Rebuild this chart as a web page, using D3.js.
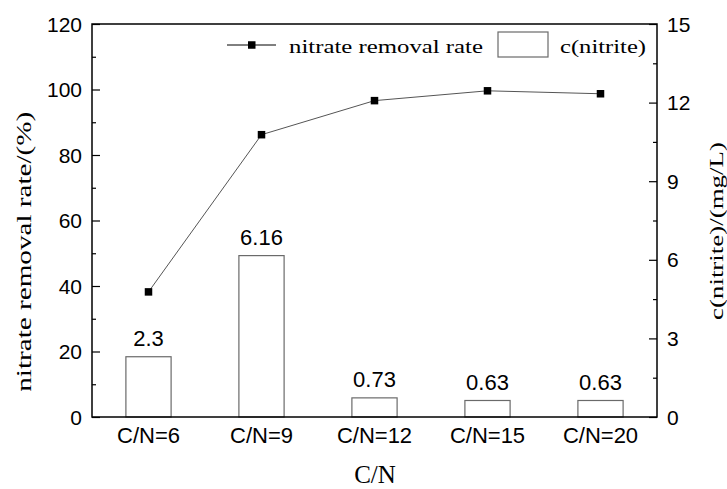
<!DOCTYPE html>
<html><head><meta charset="utf-8">
<script src="https://cdn.jsdelivr.net/npm/d3@7"></script>
<style>body{margin:0;background:#fff}svg{display:block}</style>
</head><body>
<svg id="c" width="727" height="489"></svg>
<script>
const categories = ["C/N=6","C/N=9","C/N=12","C/N=15","C/N=20"];
const removalRate = [38.2, 86.2, 96.6, 99.6, 98.7];
const nitrite = [2.3, 6.16, 0.73, 0.63, 0.63];
const nitriteLabels = ["2.3","6.16","0.73","0.63","0.63"];
const leftTicks = [0,20,40,60,80,100,120];
const rightTicks = [0,3,6,9,12,15];

const svg = d3.select("#c");
const m = {l:92, r:657, t:24, b:417};
const x = d3.scaleBand().domain(categories).range([m.l, m.r]).paddingInner(0.6).paddingOuter(0.3);
const yL = d3.scaleLinear().domain([0,120]).range([m.b, m.t]);
const yR = d3.scaleLinear().domain([0,15]).range([m.b, m.t]);
const arial = "Arial, 'Liberation Sans', sans-serif";
const times = "'Times New Roman', 'Liberation Serif', serif";

// bars
svg.append("g").selectAll("rect").data(nitrite).join("rect")
  .attr("x",(d,i)=>x(categories[i])).attr("width",x.bandwidth())
  .attr("y",d=>yR(d)).attr("height",d=>m.b-yR(d))
  .attr("fill","#fff").attr("stroke","#6a6a6a").attr("stroke-width",1.2);
svg.append("g").selectAll("text").data(nitrite).join("text")
  .attr("x",(d,i)=>x(categories[i])+x.bandwidth()/2).attr("y",d=>yR(d)-10.5)
  .attr("text-anchor","middle").attr("font-family",arial).attr("font-size",22).attr("fill","#000")
  .text((d,i)=>nitriteLabels[i]);

// line
const cx = (d,i)=>x(categories[i])+x.bandwidth()/2;
svg.append("path").datum(removalRate)
  .attr("d", d3.line().x(cx).y(d=>yL(d)))
  .attr("fill","none").attr("stroke","#555").attr("stroke-width",1);
svg.append("g").selectAll("rect").data(removalRate).join("rect")
  .attr("x",(d,i)=>cx(d,i)-3.75).attr("y",d=>yL(d)-3.75).attr("width",7.5).attr("height",7.5).attr("fill","#000");

// frame
svg.append("rect").attr("x",m.l).attr("y",m.t).attr("width",m.r-m.l).attr("height",m.b-m.t)
  .attr("fill","none").attr("stroke","#000").attr("stroke-width",1.5);

// left axis
const gL = svg.append("g").attr("transform",`translate(${m.l},0)`);
gL.call(d3.axisRight(yL).tickValues(d3.range(0,121,10)).tickSize(8).tickFormat(""));
gL.selectAll(".tick line").attr("x2",d=>d%20===0?8:4).attr("stroke-width",1.2);
gL.select(".domain").remove();
gL.selectAll(".tl").data(leftTicks).join("text").attr("class","tl")
  .attr("x",-10).attr("y",d=>yL(d)).attr("dy","0.36em").attr("text-anchor","end").attr("fill","#000")
  .attr("font-family",arial).attr("font-size",21).text(d=>d);

// right axis
const gR = svg.append("g").attr("transform",`translate(${m.r},0)`);
gR.call(d3.axisLeft(yR).tickValues(d3.range(0,15.01,1.5)).tickSize(8).tickFormat(""));
gR.selectAll(".tick line").attr("x2",d=>Math.abs(d%3)<0.01?-8:-4).attr("stroke-width",1.2);
gR.select(".domain").remove();
gR.selectAll(".tr").data(rightTicks).join("text").attr("class","tr")
  .attr("x",10).attr("y",d=>yR(d)).attr("dy","0.36em").attr("text-anchor","start").attr("fill","#000")
  .attr("font-family",arial).attr("font-size",21).text(d=>d);

// x labels
svg.append("g").selectAll("text").data(categories).join("text")
  .attr("x",d=>x(d)+x.bandwidth()/2).attr("y",443).attr("text-anchor","middle").attr("fill","#000")
  .attr("font-family",arial).attr("font-size",22).text(d=>d);

// titles
svg.append("text").attr("x",375).attr("y",483).attr("text-anchor","middle")
  .attr("font-family",times).attr("font-size",25).text("C/N");
svg.append("text").attr("transform",`translate(30.5,391.7) rotate(-90)`)
  .attr("text-anchor","start").attr("font-family",times).attr("font-size",20.5)
  .attr("textLength",280).attr("lengthAdjust","spacingAndGlyphs").text("nitrate removal rate/(%)");
svg.append("text").attr("transform",`translate(723,320) rotate(-90)`)
  .attr("text-anchor","start").attr("font-family",times).attr("font-size",19)
  .attr("textLength",178).attr("lengthAdjust","spacingAndGlyphs").text("c(nitrite)/(mg/L)");

// legend
const lg = svg.append("g");
lg.append("line").attr("x1",227).attr("x2",276).attr("y1",45).attr("y2",45).attr("stroke","#000").attr("stroke-width",1);
lg.append("rect").attr("x",248).attr("y",41.25).attr("width",7.5).attr("height",7.5).attr("fill","#000");
lg.append("text").attr("x",289).attr("y",53).attr("font-family",times).attr("font-size",19)
  .attr("textLength",194).attr("lengthAdjust","spacingAndGlyphs").text("nitrate removal rate");
lg.append("rect").attr("x",498).attr("y",32).attr("width",50).attr("height",25).attr("fill","#fff").attr("stroke","#6a6a6a").attr("stroke-width",1.2);
lg.append("text").attr("x",560).attr("y",53).attr("font-family",times).attr("font-size",19)
  .attr("textLength",86).attr("lengthAdjust","spacingAndGlyphs").text("c(nitrite)");
</script>
</body></html>
